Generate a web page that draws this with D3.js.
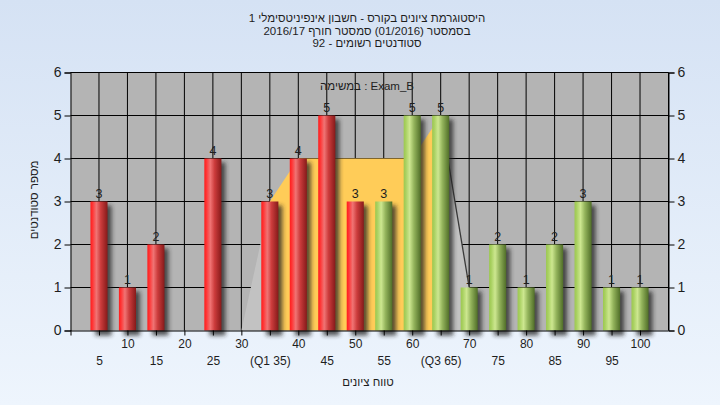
<!DOCTYPE html>
<html><head><meta charset="utf-8">
<script src="https://cdn.jsdelivr.net/npm/d3@7"></script>
<style>
html,body{margin:0;padding:0;background:#eaf2fc;}
svg{display:block;}
text{font-family:"Liberation Sans","DejaVu Sans",Arial,sans-serif;fill:#1e1e1e;}
</style></head>
<body>
<script>
// ---- data ----
const titleLines = [
  "היסטוגרמת ציונים בקורס - חשבון אינפיניטסימלי 1",
  "בסמסטר  (01/2016)  סמסטר חורף 2016/17",
  "סטודנטים רשומים - 92"
];
const innerLabel = "במשימה : Exam_B";
const xTitle = "טווח ציונים";
const yTitle = "מספר סטודנטים";
const binCenters = [5,10,15,20,25,30,35,40,45,50,55,60,65,70,75,80,85,90,95,100];
const counts     = [3,1,2,0,4,0,3,4,5,3,3,5,5,1,2,1,2,3,1,1];
const passFrom = 55;            // bars from this grade on are green
const q1 = 35, q3 = 65;
const overlayX = [30,35,40,45,50,55,60,65,70];
const overlayY = [0,3,4,4,4,4,4,5,1];
const yTicks = [0,1,2,3,4,5,6];

// ---- layout ----
const W = 720, H = 405;
const svg = d3.select("body").append("svg").attr("width", W).attr("height", H);
const defs = svg.append("defs");

const bg = defs.append("linearGradient").attr("id","bg").attr("x1",0).attr("y1",0).attr("x2",0).attr("y2",1);
bg.append("stop").attr("offset","0%").attr("stop-color","#d5e2f4");
bg.append("stop").attr("offset","100%").attr("stop-color","#eef5fd");

function cyl(id, stops){
  const g = defs.append("linearGradient").attr("id",id).attr("x1",0).attr("y1",0).attr("x2",1).attr("y2",0);
  stops.forEach(s=>g.append("stop").attr("offset",s[0]).attr("stop-color",s[1]));
}
cyl("red",[["0%","#ff1c1c"],["12%","#ff3434"],["35%","#f07474"],["60%","#cc3c3c"],["100%","#861a1a"]]);
cyl("green",[["0%","#9cc850"],["12%","#a8d060"],["35%","#cde790"],["60%","#94b45c"],["100%","#506e28"]]);
const blur = defs.append("filter").attr("id","sh").attr("x","-50%").attr("y","-20%").attr("width","200%").attr("height","140%");
blur.append("feGaussianBlur").attr("stdDeviation",2);

svg.append("rect").attr("width",W).attr("height",H).attr("fill","url(#bg)");

const x = d3.scaleLinear().domain([0,105]).range([70.5,668.5]);
const y = d3.scaleLinear().domain([0,6]).range([330.5,72.5]);
const barW = x(3) - x(0);

// titles
svg.selectAll("text.title").data(titleLines).join("text")
  .attr("class","title").attr("x",367).attr("y",(d,i)=>22+i*12.5)
  .attr("text-anchor","middle").attr("font-size",11.5).text(d=>d);

// plot background
svg.append("rect").attr("x",x(0)).attr("y",y(6)).attr("width",x(105)-x(0)).attr("height",y(0)-y(6)).attr("fill","#b4b4b4");

// grid
const grid = svg.append("g").attr("stroke","#000").attr("stroke-width",1);
grid.selectAll("line.h").data(yTicks.slice(1)).join("line")
  .attr("x1",x(0)).attr("x2",x(105)).attr("y1",d=>y(d)).attr("y2",d=>y(d));
grid.selectAll("line.v").data(binCenters).join("line")
  .attr("y1",y(0)).attr("y2",y(6)).attr("x1",d=>x(d)).attr("x2",d=>x(d));

// overlay areas (whiskers gray, box yellow)
const pts = overlayX.map((v,i)=>[v,overlayY[i]]);
const area = d3.area().x(d=>x(d[0])).y0(y(0)).y1(d=>y(d[1]));
const seg = (a,b)=>pts.filter(p=>p[0]>=a && p[0]<=b);
svg.append("path").attr("d",area(seg(overlayX[0],q1))).attr("fill","#c2c2c2");
svg.append("path").attr("d",area(seg(q3,overlayX[overlayX.length-1]))).attr("fill","#c2c2c2");
svg.append("path").attr("d",area(seg(q1,q3))).attr("fill","#ffcc58");
svg.append("path").attr("d",d3.line().x(d=>x(d[0])).y(d=>y(d[1]))(seg(q3,overlayX[overlayX.length-1])))
  .attr("fill","none").attr("stroke","#3a3a3a").attr("stroke-width",1.3);

// bars
const bars = binCenters.map((c,i)=>({c, v:counts[i]})).filter(d=>d.v>0);
svg.append("g").selectAll("rect").data(bars).join("rect")
  .attr("x",d=>x(d.c)-barW/2+5).attr("y",d=>y(d.v)+4).attr("width",barW-1).attr("height",d=>y(0)-y(d.v)+1)
  .attr("fill","#202020").attr("opacity",0.75).attr("filter","url(#sh)");
svg.append("g").selectAll("rect").data(bars).join("rect")
  .attr("x",d=>x(d.c)-barW/2).attr("y",d=>y(d.v)).attr("width",barW).attr("height",d=>y(0)-y(d.v))
  .attr("fill",d=>d.c>=passFrom?"url(#green)":"url(#red)");
svg.append("g").selectAll("text").data(bars).join("text")
  .attr("x",d=>x(d.c)).attr("y",d=>y(d.v)-4).attr("text-anchor","middle").attr("font-size",12.5)
  .attr("fill","#1a2a3a").text(d=>d.v);

// border lines
svg.append("line").attr("x1",x(0)).attr("x2",x(105)).attr("y1",y(6)).attr("y2",y(6)).attr("stroke","#000");
svg.append("line").attr("x1",x(105)).attr("x2",x(105)).attr("y1",y(6)).attr("y2",y(0)).attr("stroke","#000");

// axes
const yl = svg.append("g").attr("transform",`translate(${x(0)},0)`)
  .call(d3.axisLeft(y).tickValues(yTicks).tickSize(6).tickPadding(3).tickFormat(d3.format("d")));
const yr = svg.append("g").attr("transform",`translate(${x(105)},0)`)
  .call(d3.axisRight(y).tickValues(yTicks).tickSize(6).tickPadding(3).tickFormat(d3.format("d")));
[yl,yr].forEach(g=>{
  g.select(".domain").attr("stroke","#000");
  g.selectAll(".tick line").attr("stroke","#000");
  g.selectAll("text").attr("font-size",14).attr("fill","#1e1e1e").attr("font-family",null);
});
const fmtX = d => d===q1 ? `(Q1 ${d})` : d===q3 ? `(Q3 ${d})` : `${d}`;
const xa = svg.append("g").attr("transform",`translate(0,${y(0)})`)
  .call(d3.axisBottom(x).tickValues([0].concat(binCenters)).tickSize(5).tickPadding(4).tickFormat(d=>d===0?"":fmtX(d)));
xa.select(".domain").attr("stroke","#000").attr("d",`M${x(0)},0.5H${x(105)}`);
xa.selectAll(".tick line").attr("stroke","#000");
xa.selectAll("text").attr("font-size",12).attr("fill","#1e1e1e").attr("font-family",null)
  .attr("y",(d,i)=> (binCenters.indexOf(d)%2===0) ? 26 : 9);

// axis titles
svg.append("text").attr("x",368).attr("y",386).attr("text-anchor","middle").attr("font-size",11.5).text(xTitle);
svg.append("text").attr("transform","translate(38,200) rotate(-90)").attr("text-anchor","middle").attr("font-size",11.5).text(yTitle);
svg.append("text").attr("x",367).attr("y",90).attr("text-anchor","middle").attr("font-size",11.5).text(innerLabel);
</script>
</body></html>
